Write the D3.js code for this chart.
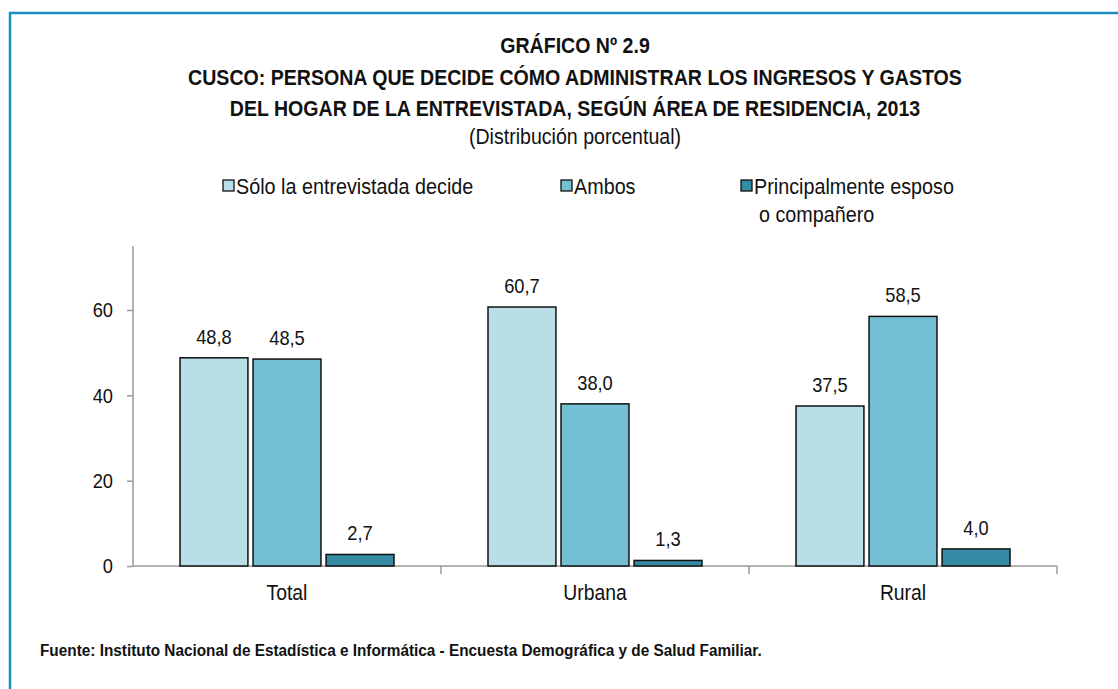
<!DOCTYPE html>
<html>
<head>
<meta charset="utf-8">
<script src="https://cdn.jsdelivr.net/npm/d3@7"></script>
<style>
  body { margin: 0; background: #fff; }
  svg text { font-family: 'Liberation Sans', Arial, sans-serif; fill: #111; }
</style>
</head>
<body>
<div id="chart"></div>
<script>
// Data
const categories = ['Total', 'Urbana', 'Rural'];
const series = ['Sólo la entrevistada decide', 'Ambos', 'Principalmente esposo o compañero'];
const soloEntrevistada = [48.8, 60.7, 37.5];
const ambos = [48.5, 38.0, 58.5];
const principalmenteEsposo = [2.7, 1.3, 4.0];
const yTicks = [0, 20, 40, 60];
const colors = ['#b9dee8', '#75bfd4', '#378aa3'];

const values = [soloEntrevistada, ambos, principalmenteEsposo];
const dataset = categories.map((c, i) => ({
  category: c,
  values: series.map((s, j) => ({ key: s, idx: j, value: values[j][i] })),
}));

// Dimensions
const dimensions = { width: 1118, height: 689 };
const plot = { left: 133, right: 1057, top: 246, bottom: 566 };

const svg = d3
  .select('#chart')
  .append('svg')
  .attr('width', dimensions.width)
  .attr('height', dimensions.height);

// squeeze text horizontally around its x so it looks like a narrow face
function narrow(sel, sx) {
  sel.each(function () {
    const x = +this.getAttribute('x') || 0;
    d3.select(this).attr('transform', `translate(${x},0) scale(${sx},1) translate(${-x},0)`);
  });
}

// Frame
svg.append('path')
  .attr('d', `M10,${dimensions.height + 5} L10,13 L${dimensions.width + 5},13`)
  .attr('fill', 'none')
  .attr('stroke', '#1a8fc0')
  .attr('stroke-width', 2.5);

// Titles
const titles = [
  { t: 'GRÁFICO Nº 2.9', y: 53, bold: true },
  { t: 'CUSCO: PERSONA QUE DECIDE CÓMO ADMINISTRAR LOS INGRESOS Y GASTOS', y: 85, bold: true },
  { t: 'DEL HOGAR DE LA ENTREVISTADA, SEGÚN ÁREA DE RESIDENCIA, 2013', y: 116, bold: true },
  { t: '(Distribución porcentual)', y: 144, bold: false },
];
svg.append('g')
  .selectAll('text')
  .data(titles)
  .join('text')
  .attr('x', 575)
  .attr('y', (d) => d.y)
  .attr('text-anchor', 'middle')
  .attr('font-size', 22)
  .attr('font-weight', (d) => (d.bold ? 'bold' : 'normal'))
  .text((d) => d.t)
  .call(narrow, 0.89);

// Scales
const xScale = d3.scaleBand()
  .domain(categories)
  .range([plot.left, plot.right]);

const xInner = d3.scaleBand()
  .domain(series)
  .range([47, xScale.bandwidth() - 47])
  .paddingInner(0.07);

const yScale = d3.scaleLinear()
  .domain([0, 75])
  .range([plot.bottom, plot.top]);

// Axes
const axisColor = '#9a9a9a';
const yAxisGroup = svg.append('g')
  .attr('transform', `translate(${plot.left},0)`)
  .call(d3.axisLeft(yScale).tickValues(yTicks).tickSize(6).tickPadding(14).tickFormat(d3.format('d')));
yAxisGroup.select('.domain').attr('stroke', axisColor).attr('stroke-width', 1.5).attr('d', `M0,${plot.top}V${plot.bottom}`);
yAxisGroup.selectAll('.tick line').attr('stroke', axisColor).attr('stroke-width', 1.5);
yAxisGroup.selectAll('.tick text')
  .attr('font-size', 21)
  .attr('fill', '#111')
  .attr('font-family', null)
  .call(narrow, 0.87);

const xAxisGroup = svg.append('g')
  .attr('transform', `translate(0,${plot.bottom})`);
xAxisGroup.append('line')
  .attr('x1', plot.left).attr('x2', plot.right)
  .attr('stroke', axisColor).attr('stroke-width', 1.5);
xAxisGroup.selectAll('line.sep')
  .data(categories.map((c) => xScale(c) + xScale.bandwidth()))
  .join('line')
  .attr('class', 'sep')
  .attr('x1', (d) => d).attr('x2', (d) => d)
  .attr('y1', 0).attr('y2', 8)
  .attr('stroke', axisColor).attr('stroke-width', 1.5);
xAxisGroup.selectAll('text')
  .data(categories)
  .join('text')
  .attr('x', (d) => xScale(d) + xScale.bandwidth() / 2)
  .attr('y', 34)
  .attr('text-anchor', 'middle')
  .attr('font-size', 21.5)
  .text((d) => d)
  .call(narrow, 0.9);

// Bars
const groups = svg.append('g')
  .selectAll('g')
  .data(dataset)
  .join('g')
  .attr('transform', (d) => `translate(${xScale(d.category)},0)`);

groups.selectAll('rect')
  .data((d) => d.values)
  .join('rect')
  .attr('x', (d) => xInner(d.key))
  .attr('width', xInner.bandwidth())
  .attr('y', (d) => yScale(d.value))
  .attr('height', (d) => plot.bottom - yScale(d.value))
  .attr('fill', (d) => colors[d.idx])
  .attr('stroke', '#111')
  .attr('stroke-width', 1.5);

groups.selectAll('text')
  .data((d) => d.values)
  .join('text')
  .attr('x', (d) => xInner(d.key) + xInner.bandwidth() / 2)
  .attr('y', (d) => yScale(d.value) - 14)
  .attr('text-anchor', 'middle')
  .attr('font-size', 21)
  .text((d) => d3.format('.1f')(d.value).replace('.', ','))
  .call(narrow, 0.87);

// Legend
const legendItems = [
  { lines: ['Sólo la entrevistada decide'], x: 223 },
  { lines: ['Ambos'], x: 561 },
  { lines: ['Principalmente esposo', 'o compañero'], x: 741 },
];
const legend = svg.append('g')
  .selectAll('g')
  .data(legendItems)
  .join('g')
  .attr('transform', (d) => `translate(${d.x},186)`);
legend.append('rect')
  .attr('x', 0).attr('y', -6)
  .attr('width', 11).attr('height', 11)
  .attr('fill', (d, i) => colors[i])
  .attr('stroke', '#111')
  .attr('stroke-width', 1.3);
legend.selectAll('text')
  .data((d) => d.lines)
  .join('text')
  .attr('x', (d, i) => (i === 0 ? 13 : 18))
  .attr('y', (d, i) => 8 + i * 28)
  .attr('font-size', 21.5)
  .text((d) => d)
  .call(narrow, 0.92);

// Source
svg.append('text')
  .attr('x', 40)
  .attr('y', 656)
  .attr('font-size', 16.5)
  .attr('font-weight', 'bold')
  .text('Fuente: Instituto Nacional de Estadística e Informática - Encuesta Demográfica y de Salud Familiar.')
  .call(narrow, 0.93);
</script>
</body>
</html>
